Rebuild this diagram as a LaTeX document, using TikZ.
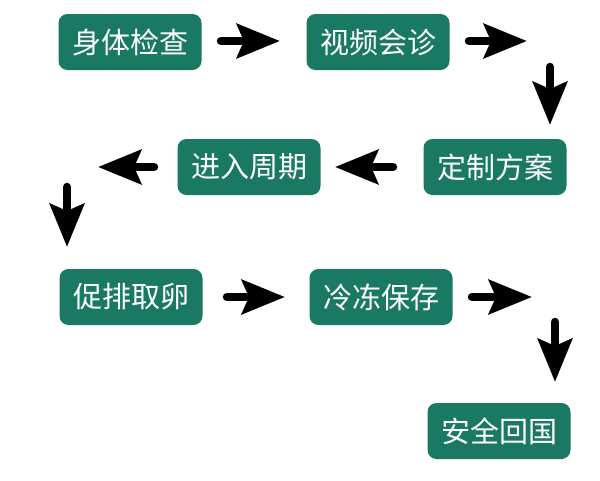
\documentclass[tikz,border=0pt]{standalone}
\usepackage{fontspec}
\newfontfamily\cjk{Noto Sans CJK SC}
\usetikzlibrary{arrows.meta}
\definecolor{boxgreen}{RGB}{26,121,99}
\tikzset{
  stepbox/.style={rectangle, rounded corners=9pt, fill=boxgreen, text=white,
    minimum width=143pt, minimum height=56pt, inner sep=0pt,
    font=\cjk\fontsize{29}{30}\selectfont},
  bigarrow/.style={line width=8.5pt, line cap=round, black,
    -{Stealth[length=43pt, width=34pt, inset=7pt]}}
}
\begin{document}
\begin{tikzpicture}[x=1pt, y=-1pt]
\useasboundingbox (0,0) rectangle (600,480);
\fill[white] (0,0) rectangle (600,480);
\node[stepbox] (b1) at (130,42) {身体检查};
\node[stepbox] (b2) at (378,42) {视频会诊};
\node[stepbox] (b3) at (495,167) {定制方案};
\node[stepbox] (b4) at (249,167) {进入周期};
\node[stepbox] (b5) at (131,297) {促排取卵};
\node[stepbox] (b6) at (381,297) {冷冻保存};
\node[stepbox] (b7) at (499,431) {安全回国};
\coordinate (a1s) at (221,41);  \coordinate (a1e) at (280,41);
\coordinate (a2s) at (469,41);  \coordinate (a2e) at (527,41);
\coordinate (a3s) at (550,67);  \coordinate (a3e) at (550,125);
\coordinate (a4s) at (393,167); \coordinate (a4e) at (335,167);
\coordinate (a5s) at (154,167); \coordinate (a5e) at (98,167);
\coordinate (a6s) at (67,187);  \coordinate (a6e) at (67,247);
\coordinate (a7s) at (227,297); \coordinate (a7e) at (285,297);
\coordinate (a8s) at (472,297); \coordinate (a8e) at (532,297);
\coordinate (a9s) at (555,322); \coordinate (a9e) at (555,382);
\foreach \i in {1,...,9} {\draw[bigarrow] (a\i s) -- (a\i e);}
\end{tikzpicture}
\end{document}
